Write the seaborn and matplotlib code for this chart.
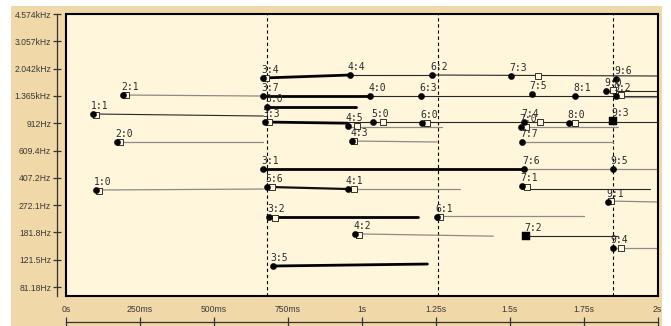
import numpy as np
import pandas as pd
import matplotlib
matplotlib.use("Agg")
import matplotlib.pyplot as plt
import seaborn as sns
from matplotlib.patches import Rectangle
from matplotlib.ticker import NullLocator, FixedLocator, FixedFormatter

# ---------------- data ----------------
freq_ticks = [4574, 3057, 2042, 1365, 912, 609.4, 407.2, 272.1, 181.8, 121.5, 81.18]
freq_tick_labels = ["4.574kHz", "3.057kHz", "2.042kHz", "1.365kHz", "912Hz", "609.4Hz",
                    "407.2Hz", "272.1Hz", "181.8Hz", "121.5Hz", "81.18Hz"]
time_ticks = [0, 0.25, 0.5, 0.75, 1.0, 1.25, 1.5, 1.75, 2.0]
time_tick_labels = ["0s", "250ms", "500ms", "750ms", "1s", "1.25s", "1.5s", "1.75s", "2s"]
marker_times = [0.679, 1.257, 1.850]

node_labels = ["1:1", "1:0", "2:0", "2:1", "3:4", "3:7", "3:0", "3:3", "3:1", "5:6", "3:2", "3:5",
               "4:4", "4:0", "4:5", "5:0", "4:3", "4:1", "4:2", "6:2", "6:3", "6:0", "6:1",
               "7:3", "7:5", "7:4", "7:0", "7:7", "7:6", "7:1", "7:2", "8:1", "8:0",
               "9:0", "9:2", "9:6", "9:3", "9:5", "9:1", "9:4"]
node_t = [0.091, 0.102, 0.173, 0.193, 0.667, 0.667, 0.680, 0.673, 0.667, 0.680, 0.687, 0.700,
          0.961, 1.029, 0.954, 1.039, 0.968, 0.954, 0.978, 1.239, 1.201, 1.205, 1.255,
          1.506, 1.574, 1.547, 1.540, 1.543, 1.550, 1.543, 1.557, 1.722, 1.702,
          1.827, 1.858, 1.861, 1.851, 1.848, 1.834, 1.848]
node_f = [1045, 340, 691, 1383, 1778, 1362, 1159, 928, 464, 356, 228, 110.7,
          1858, 1362, 875, 928, 701, 345, 178, 1858, 1362, 912, 228,
          1831, 1404, 928, 862, 691, 464, 361, 172, 1362, 912,
          1467, 1362, 1751, 942, 464, 285, 144.5]
node_shape = ["dot"] * 30 + ["box"] + ["dot"] * 5 + ["box"] + ["dot"] * 3

box_t = [0.102, 0.112, 0.183, 0.203, 0.677, 0.687, 0.697, 0.705, 0.985, 1.073, 0.975,
         0.975, 0.991, 1.222, 1.264, 1.597, 1.604, 1.557, 1.560, 1.722, 1.848, 1.875, 1.844, 1.878]
box_f = [1029, 336, 691, 1383, 1778, 928, 356, 225, 875, 928, 701,
         345, 175, 912, 228, 1831, 928, 862, 356, 912, 1480, 1375, 289, 144.5]

seg_t0 = [0.667, 0.961, 1.239, 0.193, 0.667, 1.029, 1.827, 1.858, 0.680, 0.091,
          0.673, 0.954, 0.954, 1.540, 0.173, 0.968, 1.543, 0.667, 1.550, 0.102,
          0.680, 0.954, 1.543, 1.834, 0.687, 1.255, 0.978, 1.557, 1.848, 0.700]
seg_t1 = [0.961, 1.239, 2.000, 0.667, 1.029, 2.000, 2.000, 2.000, 0.981, 0.667,
          0.954, 2.000, 1.272, 1.868, 0.667, 1.255, 1.851, 1.550, 2.000, 0.667,
          0.954, 1.333, 1.976, 2.000, 1.191, 1.750, 1.445, 1.865, 2.000, 1.222]
seg_f0 = [1778, 1858, 1858, 1383, 1362, 1362, 1467, 1343, 1159, 1045,
          928, 928, 862, 862, 691, 701, 691, 464, 464, 340,
          356, 345, 345, 289, 228, 232, 178, 172, 144.5, 110.7]
seg_f1 = [1858, 1858, 1831, 1362, 1362, 1362, 1467, 1343, 1159, 1014,
          912, 928, 862, 862, 691, 691, 691, 464, 464, 345,
          345, 345, 345, 285, 228, 232, 172, 172, 144.5, 114]
seg_kind = ["strong", "thin", "thin", "faint", "strong", "thin", "thin", "faint", "strong", "thin",
            "strong", "thin", "faint", "faint", "faint", "faint", "faint", "strong", "faint", "faint",
            "medium", "faint", "thin", "faint", "strong", "faint", "faint", "thin", "faint", "strong"]

# ---------------- figure ----------------
W, H = 671, 326
sns.set_style("white")
plt.rcParams["font.family"] = ["Liberation Sans", "DejaVu Sans"]

fig = plt.figure(figsize=(W / 100, H / 100), dpi=100)
fig.patch.set_facecolor("white")
bg = Rectangle((11 / W, 0), (662 - 11) / W, (H - 6) / H, transform=fig.transFigure,
               facecolor="#F0D8A8", edgecolor="none", zorder=-10)
fig.add_artist(bg)

left, right, top, bottom = 66, 657.5, 14, 296
ax = fig.add_axes([left / W, 1 - bottom / H, (right - left) / W, (bottom - top) / H])
ax.set_facecolor("#FFF6DC")
ax.set_yscale("log")

rows = []
for i in range(len(seg_t0)):
    rows.append({"seg": i, "t": seg_t0[i], "f": seg_f0[i], "kind": seg_kind[i]})
    rows.append({"seg": i, "t": seg_t1[i], "f": seg_f1[i], "kind": seg_kind[i]})
segs = pd.DataFrame(rows)

sns.lineplot(data=segs, x="t", y="f", units="seg", estimator=None, hue="kind", size="kind",
             palette={"strong": "#000000", "medium": "#111111", "thin": "#262626", "faint": "#8c8c84"},
             sizes={"strong": 2.0, "medium": 1.6, "thin": 0.8, "faint": 0.9},
             legend=False, ax=ax, sort=False, zorder=2)

for mt in marker_times:
    ax.axvline(mt, color="black", lw=0.8, ls=(0, (3, 2.5)), zorder=1)

boxes = pd.DataFrame({"t": box_t, "f": box_f})
sns.scatterplot(data=boxes, x="t", y="f", marker="s", s=20, facecolor="#FFF6DC",
                edgecolor="#333333", linewidth=0.7, ax=ax, zorder=3, legend=False)

nodes = pd.DataFrame({"label": node_labels, "t": node_t, "f": node_f, "shape": node_shape})
sns.scatterplot(data=nodes[nodes["shape"] == "dot"], x="t", y="f", marker="o", s=20,
                color="black", edgecolor="black", linewidth=0.3, ax=ax, zorder=4, legend=False)
sns.scatterplot(data=nodes[nodes["shape"] == "box"], x="t", y="f", marker="s", s=26,
                color="black", edgecolor="black", linewidth=0.3, ax=ax, zorder=4, legend=False)

for _, r in nodes.iterrows():
    ax.annotate(r["label"], (r["t"], r["f"]), xytext=(-1.6, 2.0), textcoords="offset points",
                fontsize=7, color="#2a2a2a", ha="left", va="bottom", zorder=5,
                family=["DejaVu Sans Mono", "DejaVu Sans"])

ax.set_xlabel("")
ax.set_ylabel("")
for sp in ax.spines.values():
    sp.set_visible(True)
    sp.set_color("black")
    sp.set_linewidth(1.5)

# separate y axis
yax = fig.add_axes([57 / W, 1 - bottom / H, 0.0001, (bottom - top) / H], sharey=ax)
yax.patch.set_visible(False)
for k in ["right", "top", "bottom"]:
    yax.spines[k].set_visible(False)
yax.spines["left"].set_color("#333333")
yax.spines["left"].set_linewidth(0.9)

# separate x axis (labels above the line)
xax = fig.add_axes([left / W, 1 - 322 / H, (right - left) / W, 0.0001], sharex=ax)
xax.patch.set_visible(False)
for k in ["left", "right", "bottom"]:
    xax.spines[k].set_visible(False)
xax.spines["top"].set_color("#333333")
xax.spines["top"].set_linewidth(0.9)

ax.yaxis.set_major_locator(FixedLocator(freq_ticks))
ax.yaxis.set_major_formatter(FixedFormatter(freq_tick_labels))
ax.yaxis.set_minor_locator(NullLocator())
ax.xaxis.set_major_locator(FixedLocator(time_ticks))
ax.xaxis.set_major_formatter(FixedFormatter(time_tick_labels))
ax.xaxis.set_minor_locator(NullLocator())

ax.tick_params(left=False, bottom=False, right=False, top=False,
               labelleft=False, labelbottom=False, labelright=False, labeltop=False)
yax.tick_params(axis="y", direction="inout", length=6, width=0.9, color="#333333",
                labelsize=6.2, labelcolor="#3a3a3a", pad=1.2, left=True, labelleft=True)
yax.tick_params(axis="x", bottom=False, labelbottom=False)
xax.xaxis.set_ticks_position("top")
xax.tick_params(axis="x", direction="inout", length=7, width=0.9, color="#333333",
                labelsize=6.2, labelcolor="#3a3a3a", pad=2.5, top=True, bottom=False,
                labeltop=True, labelbottom=False)
xax.tick_params(axis="y", left=False, labelleft=False)
yax.set_xlabel("")
yax.set_ylabel("")
xax.set_xlabel("")
xax.set_ylabel("")

ax.set_xlim(0, 2.0)
ax.set_ylim(71.1, 4574)

fig.savefig("out.png", dpi=100, facecolor=fig.get_facecolor())
